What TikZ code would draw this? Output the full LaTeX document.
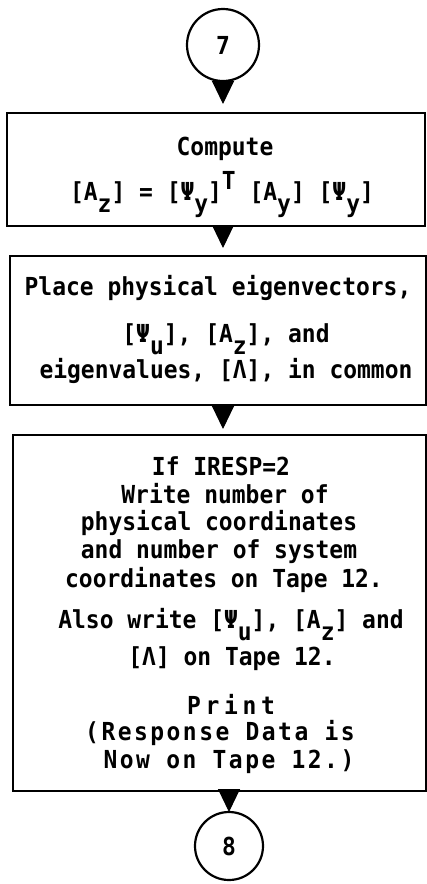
\documentclass[tikz,border=0pt]{standalone}
\usepackage{fontspec}
\newfontfamily\twfont{DejaVu Sans Mono Bold}[FakeStretch=0.925]
\newfontfamily\twwide{DejaVu Sans Mono Bold}[FakeStretch=0.925,LetterSpace=10]
\newfontfamily\twwider{DejaVu Sans Mono Bold}[FakeStretch=0.925,LetterSpace=19]
\usetikzlibrary{arrows.meta}
\newcommand\dnsub[1]{\raisebox{-0.5em}{#1}}
\newcommand\upsup[1]{\raisebox{0.42em}{#1}}
\tikzset{
  box/.style={draw, line width=2.8pt, inner sep=0pt, outer sep=0pt, anchor=north west},
  txt/.style={inner sep=0pt, anchor=base, font=\twfont\fontsize{24.8}{28}\selectfont},
  conn/.style={line width=1pt, -{Triangle[width=22pt,length=23pt]}},
  term/.style={circle, draw, line width=2.2pt, inner sep=0pt, outer sep=0pt,
    font=\twfont\fontsize{24.8}{28}\selectfont}
}
\begin{document}
\begin{tikzpicture}[x=1pt,y=-1pt]
\useasboundingbox[fill=white] (0,0) rectangle (427,884);

% terminals
\node[term, minimum size=72pt] (c7) at (223,45) {7};
\node[term, minimum size=68pt] (c8) at (229,846) {8};

% boxes
\node[box, minimum width=418pt, minimum height=113pt] (b1) at (7,113) {};
\node[box, minimum width=416pt, minimum height=149pt] (b2) at (10,256) {};
\node[box, minimum width=413pt, minimum height=356pt] (b3) at (13,435) {};

% box 1 text
\node[txt] (t1a) at (225,155) {Compute};
\node[txt] (t1b) at (222,200) {[A\dnsub{z}] = [Ψ\dnsub{y}]\upsup{T} [A\dnsub{y}] [Ψ\dnsub{y}]};

% box 2 text
\node[txt] (t2a) at (218,295) {Place physical eigenvectors,};
\node[txt] (t2b) at (226,342) {[Ψ\dnsub{u}], [A\dnsub{z}], and};
\node[txt] (t2c) at (226,378) {eigenvalues, [Λ], in common};

% box 3 text
\node[txt] (t3a) at (221,475) {If IRESP=2};
\node[txt] (t3b) at (225,503) {Write number of};
\node[txt] (t3c) at (219,530) {physical coordinates};
\node[txt] (t3d) at (219,558) {and number of system};
\node[txt] (t3e) at (224,587) {coordinates on Tape 12.};
\node[txt] (t3f) at (231,628) {Also write [Ψ\dnsub{u}], [A\dnsub{z}] and};
\node[txt] (t3g) at (232,665) {[Λ] on Tape 12.};
\node[txt, font=\twwider\fontsize{24.8}{28}\selectfont] (t3h) at (231,714) {Print};
\node[txt, font=\twwide\fontsize{24.8}{28}\selectfont] (t3i) at (220,740) {(Response Data is};
\node[txt, font=\twwide\fontsize{24.8}{28}\selectfont] (t3j) at (229,768) {Now on Tape 12.)};

% connectors
\draw[conn, shorten >=9pt] (c7.south) -- (c7.south |- b1.north);
\draw[conn, shorten >=8pt] (b1.south -| c7) -- (b2.north -| c7);
\draw[conn, shorten >=6pt] (b2.south -| c7) -- (b3.north -| c7);
\draw[conn] (b3.south -| c8) -- (c8.north);
\end{tikzpicture}
\end{document}
